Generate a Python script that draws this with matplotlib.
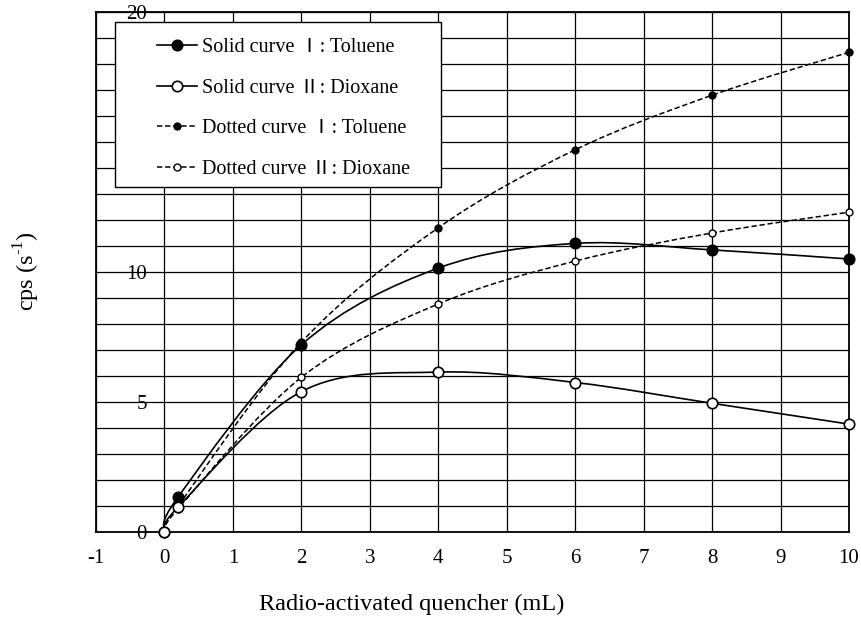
import matplotlib
matplotlib.use('Agg')
import matplotlib.pyplot as plt
import numpy as np
from matplotlib.path import Path
from matplotlib.patches import PathPatch, Rectangle
from matplotlib.lines import Line2D

plt.rcParams['font.family'] = ['Liberation Serif', 'Noto Sans CJK JP', 'DejaVu Serif']
plt.rcParams['axes.unicode_minus'] = False
plt.rcParams['mathtext.fontset'] = 'custom'
plt.rcParams['mathtext.rm'] = 'Liberation Serif'

# ---- data ----
x_vals = [0, 0.2, 2, 4, 6, 8, 10]
solid_toluene = [0, 1.35, 7.2, 10.15, 11.1, 10.85, 10.5]
solid_dioxane = [0, 0.96, 5.4, 6.15, 5.75, 4.95, 4.15]
dotted_toluene = [0, 1.0, 7.3, 11.7, 14.7, 16.8, 18.45]
dotted_dioxane = [0, 0.9, 5.95, 8.77, 10.42, 11.5, 12.3]

labels = ['Solid curve Ⅰ: Toluene', 'Solid curve Ⅱ: Dioxane',
          'Dotted curve Ⅰ: Toluene', 'Dotted curve Ⅱ: Dioxane']
x_ticks = list(range(-1, 11))
y_major = [0, 5, 10, 15, 20]
y_minor = list(range(0, 21))

W, H = 861, 636
fig = plt.figure(figsize=(W / 100, H / 100), dpi=100)
ax = fig.add_axes([96 / W, 1 - 532 / H, (849 - 96) / W, (532 - 12) / H])
ax.set_xlim(-1, 10)
ax.set_ylim(0, 20)

ax.set_xticks(x_ticks)
ax.set_xticklabels([str(t) for t in x_ticks])
ax.set_yticks(y_major)
ax.set_yticklabels([str(t) for t in y_major])
ax.set_yticks(y_minor, minor=True)
ax.tick_params(axis='x', length=0, pad=12.5, labelsize=15)
ax.tick_params(axis='y', which='both', length=0, pad=-36.5, labelsize=15)
ax.grid(True, which='both', color='black', linewidth=0.9)
ax.set_axisbelow(True)
for s in ax.spines.values():
    s.set_linewidth(1.3)
    s.set_color('black')


def smooth_path(xs, ys):
    pts = ax.transData.transform(np.column_stack([xs, ys]))
    n = len(pts)
    verts = [pts[0]]
    codes = [Path.MOVETO]
    for i in range(n - 1):
        p0 = pts[i - 1] if i > 0 else pts[i]
        p1 = pts[i]
        p2 = pts[i + 1]
        p3 = pts[i + 2] if i + 2 < n else pts[i + 1]
        c1 = p1 + (p2 - p0) / 6.0
        c2 = p2 - (p3 - p1) / 6.0
        verts += [c1, c2, p2]
        codes += [Path.CURVE4] * 3
    verts = ax.transData.inverted().transform(np.array(verts))
    return Path(verts, codes)


dash = (0, (3.5, 1.8))
series = [
    (dotted_toluene, dict(ls=dash, lw=1.1), dict(marker='o', ms=5, mfc='black', mec='black', mew=1.0)),
    (dotted_dioxane, dict(ls=dash, lw=1.1), dict(marker='o', ms=5, mfc='white', mec='black', mew=1.0)),
    (solid_toluene, dict(ls='-', lw=1.2), dict(marker='o', ms=7.5, mfc='black', mec='black', mew=1.2)),
    (solid_dioxane, dict(ls='-', lw=1.2), dict(marker='o', ms=7.5, mfc='white', mec='black', mew=1.2)),
]
for ys, lstyle, mstyle in series:
    patch = PathPatch(smooth_path(x_vals, ys), fill=False, edgecolor='black',
                      linestyle=lstyle['ls'], linewidth=lstyle['lw'], zorder=3)
    ax.add_patch(patch)
for ys, lstyle, mstyle in series:
    ax.plot(x_vals, ys, ls='none', zorder=4, clip_on=False, **mstyle)

# legend frame
rect = Rectangle((115 / W, 1 - 187 / H), 326 / W, 165 / H, transform=fig.transFigure,
                 facecolor='white', edgecolor='black', linewidth=1.0, zorder=4)
fig.add_artist(rect)

order = [2, 3, 0, 1]
handles = []
for k in order:
    ys, lstyle, mstyle = series[k]
    handles.append(Line2D([], [], color='black', ls=lstyle['ls'], lw=lstyle['lw'], **mstyle))
leg = fig.legend(handles, labels, loc='upper left', bbox_to_anchor=(157 / W, 1 - 38 / H),
                 frameon=False, borderpad=0, borderaxespad=0, fontsize=14.5,
                 handlelength=2.0, handletextpad=0.25, labelspacing=1.07)
leg.set_zorder(5)

fig.text(412 / W, 1 - 604 / H, 'Radio-activated quencher (mL)', ha='center', va='center', fontsize=17.5)
fig.text(27 / W, 1 - 271 / H, 'cps (s$^{\\mathregular{\u20101}}$)', ha='center', va='center',
         rotation=90, fontsize=17.5)

fig.savefig('out.png', dpi=100)
